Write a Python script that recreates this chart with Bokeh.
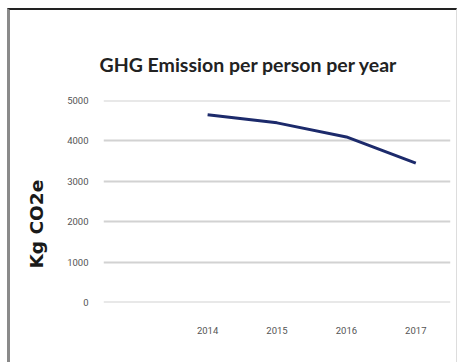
from bokeh.plotting import figure
from bokeh.models import Range1d, FixedTicker, Title
from bokeh.embed import file_html
from bokeh.resources import INLINE

# GHG emission per person per year (kg CO2e)
years = [2014, 2015, 2016, 2017]
emissions = [4650, 4450, 4100, 3450]
year_labels = ["2014", "2015", "2016", "2017"]
y_ticks = [0, 1000, 2000, 3000, 4000, 5000]

p = figure(
    width=450, height=354,
    output_backend="svg", toolbar_location=None,
    x_range=Range1d(2012.5, 2017.5),
    y_range=Range1d(-4, 5004),
    min_border_left=93, min_border_right=10,
    min_border_top=90, min_border_bottom=62,
    title="GHG Emission per person per year",
)
p.styles = {
    "margin-top": "8px", "margin-left": "7px",
    "border-top": "2px solid #222222",
    "border-left": "3px solid #8a8a8a",
    "border-right": "1px solid #dddddd",
}
p.outline_line_color = None
p.background_fill_color = "white"
p.border_fill_color = "white"

p.title.align = "left"
p.title.offset = -4
p.title.text_font = "Lato"
p.title.text_font_style = "bold"
p.title.text_font_size = "19.5px"
p.title.text_color = "#222222"
p.title.standoff = 50

p.line(years, emissions, line_color="#1c2a6b", line_width=3)

p.xgrid.grid_line_color = None
p.ygrid.grid_line_color = "#d2d2d2"
p.ygrid.grid_line_width = 2

p.xaxis.ticker = FixedTicker(ticks=years)
p.xaxis.major_label_overrides = {y: s for y, s in zip(years, year_labels)}
p.yaxis.ticker = FixedTicker(ticks=y_ticks)

for ax in (p.xaxis[0], p.yaxis[0]):
    ax.axis_line_color = None
    ax.major_tick_line_color = None
    ax.minor_tick_line_color = None
    ax.major_label_text_font = "Roboto"
    ax.major_label_text_font_size = "9.5px"
    ax.major_label_text_color = "#555555"
p.xaxis.major_label_standoff = 18
p.yaxis.major_label_standoff = 9

# y-axis caption as a side title, shifted up from the bottom of the frame
ylabel = Title(
    text="Kg CO2e", align="left", offset=34, standoff=31,
    vertical_align="top",
    text_font="DejaVu Sans", text_font_style="bold",
    text_font_size="18.5px", text_color="#1a1a1a",
)
p.add_layout(ylabel, "left")

open("out.html", "w").write(file_html(p, INLINE))
